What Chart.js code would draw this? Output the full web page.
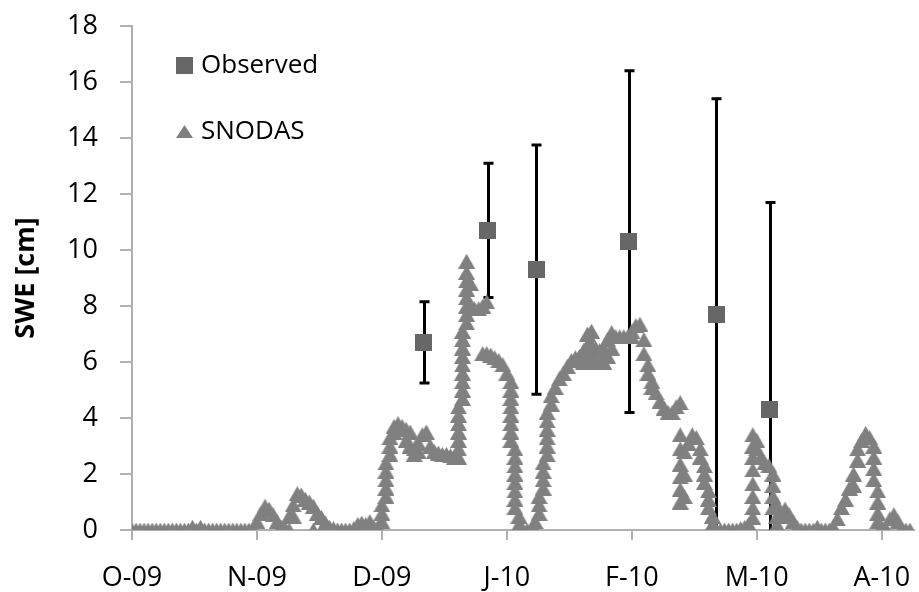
<!DOCTYPE html>
<html>
<head>
  <title>SWE - Observed vs SNODAS</title>
  <meta charset="UTF-8">
  <script src="https://cdn.jsdelivr.net/npm/chart.js@4"></script>
  <style>
    html, body {
      margin: 0;
      overflow: hidden;
      background-color: white;
    }
    .chart-container {
      width: 919px;
      height: 592px;
      position: relative;
    }
    canvas {
      display: block;
    }
  </style>
</head>
<body>
  <div class="chart-container">
    <canvas id="sweChart"></canvas>
  </div>

  <script>
    // Month ticks, in days since 1 Oct 2009 (one tick every 31 days)
    const monthTickDays = [0, 31, 62, 93, 124, 155, 186];
    const monthLabels = ['O-09', 'N-09', 'D-09', 'J-10', 'F-10', 'M-10', 'A-10'];

    // Snow survey means and error half-widths [cm]
    const obsDay = [72.4, 88.2, 100.3, 123.2, 145, 158.2];
    const obsSwe = [6.7, 10.7, 9.3, 10.3, 7.7, 4.3];
    const obsErr = [1.45, 2.4, 4.45, 6.1, 7.7, 7.4];

    // SNODAS SWE [cm] per day since 1 Oct 2009; days with several grid cells list each value
    const snodasSwe = [
      0, 0, 0, 0, 0, 0, 0, 0, 0, 0,
      0, 0, 0, 0, 0, 0.1, 0, 0.1, 0, 0,
      0, 0, 0, 0, 0, 0, 0, 0, 0, 0,
      0.05, 0.3, 0.6, 0.85, 0.75, 0.55, 0.3, 0.1, 0.05, [0, 0.5],
      [0.5, 0.9], 1.3, 1.25, 1.1, 1.0, [0.85, 0], 0.6, 0.45, 0.25, 0.1,
      0.05, 0, 0, 0, 0, 0.05, 0.2, 0.25, 0.2, [0.15, 0.3],
      0.1, 0.1, [0.3, 0.6, 0.9], [1.2, 1.5, 1.8, 2.1, 2.4], [2.7, 3.0, 3.3], [3.5, 3.7], 3.8, 3.7, [3.6, 3.2], [3.5, 3.0],
      [2.9, 2.7], [2.8, 3.1], 3.4, 3.5, 3.0, 2.8, 2.75, 2.7, 2.7, 2.65,
      2.6, [2.6, 2.9, 3.2, 3.5, 3.8, 4.1, 4.4], [4.7, 5.0, 5.3, 5.6, 5.9, 6.2, 6.5, 6.8, 7.1], [7.4, 7.7, 8.0, 8.3, 8.6, 8.9, 9.2, 9.6], [8.8, 8.0], 7.9, 7.9, [8.0, 6.3], [8.15, 6.3], 6.25,
      6.15, 6.05, 5.9, 5.6, [5.3, 5.0, 4.7, 4.4, 4.1, 3.8, 3.5, 3.2], [2.9, 2.6, 2.3, 2.0, 1.7, 1.4, 1.1, 0.8], [0.5, 0.2, 0], 0, 0, 0,
      [0, 0.3], [0.6, 0.9, 1.2], [1.5, 1.8, 2.1, 2.4], [2.7, 3.0, 3.3, 3.6, 3.9, 4.2], [4.5, 4.8], 5.1, 5.4, 5.6, 5.85, 6.05,
      6.15, 6.2, [6.0, 6.4], [6.1, 6.6, 7.0], [7.1, 6.6, 6.1], [6.5, 6.0], [6.4, 6.0], [6.5, 6.0], [6.8, 6.2], [7.05, 6.5],
      6.9, 6.9, 6.9, 6.9, [6.9, 7.1], 7.3, 7.35, [6.8, 6.3], [5.9, 5.6], [5.3, 5.1],
      4.9, 4.6, 4.35, 4.2, 4.2, 4.4, [4.55, 3.4, 2.9, 2.35, 1.9, 1.45, 1.0], [1.2, 2.0, 2.8], 3.1, 3.4,
      3.3, [2.9, 2.6], [2.3, 2.0, 1.7], [1.4, 1.1, 0.8], [0.5, 0.2], 0, 0, 0, 0, 0,
      0, 0.05, 0.1, 0.2, [3.4, 3.0, 2.6, 2.15, 1.65, 1.2, 0.8, 0.45], [3.2, 2.9], 2.6, 2.4, 2.3, [2.0, 1.6, 1.2, 0.8],
      [0.9, 0.5, 0.2], 0.5, 0.75, 0.55, 0.3, 0.1, 0, 0, 0, 0,
      0.1, 0, 0, 0, 0.1, 0.4, 0.8, 1.1, 1.5, [2.0, 1.6],
      [2.5, 2.9], 3.2, 3.45, 3.3, [3.0, 2.6, 2.2, 1.8], [1.4, 1.0, 0.6, 0.3], 0.1, 0.05, 0.4, 0.55,
      0.3, 0.05, 0, 0
    ];

    const OBS_COLOR = '#676767';
    const SNODAS_COLOR = '#808080';
    const AXIS_COLOR = '#b0b0b0';

    // Marker bitmaps so the shapes sit centred on their values like the spreadsheet markers
    function squareMarker(size, color) {
      const c = document.createElement('canvas');
      c.width = size;
      c.height = size;
      const g = c.getContext('2d');
      g.fillStyle = color;
      g.fillRect(0, 0, size, size);
      return c;
    }

    function triangleMarker(w, h, color) {
      const c = document.createElement('canvas');
      c.width = w;
      c.height = h;
      const g = c.getContext('2d');
      g.fillStyle = color;
      g.beginPath();
      g.moveTo(w / 2, 0);
      g.lineTo(w, h);
      g.lineTo(0, h);
      g.closePath();
      g.fill();
      return c;
    }

    const obsPoint = squareMarker(17, OBS_COLOR);
    const snodasPoint = triangleMarker(17, 15, SNODAS_COLOR);

    const obsData = obsDay.map((d, i) => ({ x: d, y: obsSwe[i] }));
    const snodasData = snodasSwe.flatMap((v, day) =>
      (Array.isArray(v) ? v : [v]).map(swe => ({ x: day, y: swe }))
    );

    // Vertical error bars with caps, drawn underneath the markers
    const errorBars = {
      id: 'errorBars',
      beforeDatasetsDraw(chart) {
        const { ctx, chartArea, scales: { x, y } } = chart;
        ctx.save();
        ctx.beginPath();
        ctx.rect(chartArea.left, chartArea.top, chartArea.width, chartArea.height);
        ctx.clip();
        ctx.strokeStyle = '#000';
        ctx.lineWidth = 3;
        obsDay.forEach((d, i) => {
          const px = Math.round(x.getPixelForValue(d)) + 0.5;
          const top = y.getPixelForValue(obsSwe[i] + obsErr[i]);
          const bottom = y.getPixelForValue(obsSwe[i] - obsErr[i]);
          ctx.beginPath();
          ctx.moveTo(px, top);
          ctx.lineTo(px, bottom);
          ctx.moveTo(px - 5, top);
          ctx.lineTo(px + 5, top);
          ctx.moveTo(px - 5, bottom);
          ctx.lineTo(px + 5, bottom);
          ctx.stroke();
        });
        ctx.restore();
      }
    };

    // Legend sits inside the plot, top left
    const insideLegend = {
      id: 'insideLegend',
      afterDraw(chart) {
        const { ctx } = chart;
        const items = [
          { label: chart.data.datasets[0].label, marker: squareMarker(17, OBS_COLOR), y: 65 },
          { label: chart.data.datasets[1].label, marker: triangleMarker(17, 13, SNODAS_COLOR), y: 131 }
        ];
        ctx.save();
        ctx.font = '26px "Open Sans", sans-serif';
        ctx.fillStyle = '#000';
        ctx.textBaseline = 'middle';
        items.forEach(it => {
          ctx.drawImage(it.marker, 176, Math.round(it.y - it.marker.height / 2));
          ctx.fillText(it.label, 201, it.y + 1);
        });
        ctx.restore();
      }
    };

    Chart.defaults.font.family = '"Open Sans", sans-serif';
    Chart.defaults.color = '#000';

    const ctx = document.getElementById('sweChart').getContext('2d');
    new Chart(ctx, {
      type: 'scatter',
      data: {
        datasets: [{
          label: 'Observed',
          data: obsData,
          pointStyle: obsPoint,
          backgroundColor: OBS_COLOR,
          borderColor: OBS_COLOR
        }, {
          label: 'SNODAS',
          data: snodasData,
          pointStyle: snodasPoint,
          backgroundColor: SNODAS_COLOR,
          borderColor: SNODAS_COLOR
        }]
      },
      options: {
        responsive: true,
        maintainAspectRatio: false,
        animation: false,
        layout: {
          padding: { top: 26, right: 0, bottom: 0, left: 0 }
        },
        plugins: {
          legend: { display: false },
          tooltip: { enabled: false }
        },
        scales: {
          x: {
            type: 'linear',
            min: 0,
            max: 194,
            afterBuildTicks: axis => {
              axis.ticks = monthTickDays.map(v => ({ value: v }));
            },
            // fixed band height; no extra side padding for the end labels
            afterFit: axis => {
              axis.height = 62;
              axis.paddingLeft = 0;
              axis.paddingRight = 0;
            },
            ticks: {
              autoSkip: false,
              maxRotation: 0,
              padding: 22,
              font: { size: 27 },
              callback: (value) => monthLabels[monthTickDays.indexOf(value)]
            },
            grid: {
              drawOnChartArea: false,
              drawTicks: true,
              tickLength: 10,
              color: AXIS_COLOR,
              lineWidth: 2
            },
            border: { color: AXIS_COLOR, width: 2 }
          },
          y: {
            min: 0,
            max: 18,
            afterFit: axis => {
              axis.width = 132;
              axis.paddingTop = 0;
              axis.paddingBottom = 0;
            },
            ticks: {
              stepSize: 2,
              padding: 22,
              font: { size: 27 }
            },
            grid: {
              drawOnChartArea: false,
              drawTicks: true,
              tickLength: 12,
              color: AXIS_COLOR,
              lineWidth: 2
            },
            border: { color: AXIS_COLOR, width: 2 },
            title: {
              display: true,
              text: 'SWE [cm]',
              font: { size: 27, weight: 'bold' },
              padding: { top: 10, bottom: 0 }
            }
          }
        }
      },
      plugins: [errorBars, insideLegend]
    });
  </script>
</body>
</html>
